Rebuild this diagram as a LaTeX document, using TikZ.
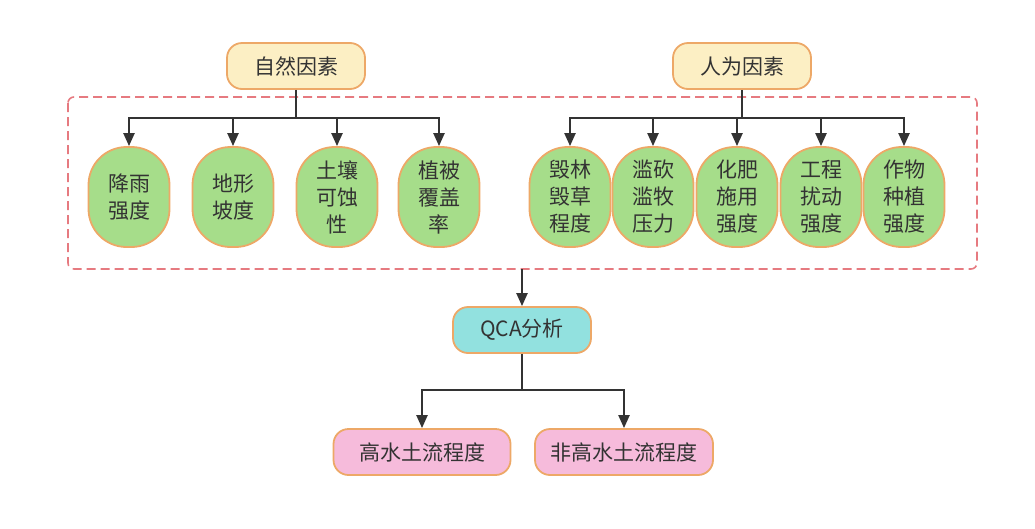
\documentclass[tikz,border=0pt]{standalone}
\usepackage{fontspec}
\setmainfont{Noto Sans CJK SC}
\usetikzlibrary{arrows.meta}
\definecolor{lineC}{HTML}{333333}
\definecolor{ylwF}{HTML}{FCEFC4}
\definecolor{ornB}{HTML}{EDA867}
\definecolor{grnF}{HTML}{A6DD8A}
\definecolor{tealF}{HTML}{92E1DF}
\definecolor{pinkF}{HTML}{F6BBDB}
\definecolor{dashC}{HTML}{E67A80}
\begin{document}
\begin{tikzpicture}[x=1pt,y=-1pt,
  every node/.style={font=\fontsize{21}{27}\selectfont, text=lineC, align=center, inner sep=0pt},
  topbox/.style={draw=ornB, line width=1.8pt, rounded corners=15pt, minimum width=138pt, minimum height=46pt},
  ovalbox/.style={draw=ornB, fill=grnF, line width=1.8pt, rounded corners=38pt, minimum width=81pt, minimum height=100pt},
  conn/.style={draw=lineC, line width=2.2pt},
  arr/.style={conn, -{Triangle[length=13pt,width=11pt]}}]
\useasboundingbox (0,0) rectangle (1035,528);
\draw[dashC, line width=1.6pt, dash pattern=on 9pt off 5pt, rounded corners=6pt] (68,97) rectangle (977,269);
\node[topbox, fill=ylwF] (nat) at (296,66) {自然因素};
\node[topbox, fill=ylwF] (hum) at (742,66) {人为因素};
\node[ovalbox] (a1) at (129,197) {降雨\\强度};
\node[ovalbox] (a2) at (233,197) {地形\\坡度};
\node[ovalbox] (a3) at (337,197) {土壤\\可蚀\\性};
\node[ovalbox] (a4) at (439,197) {植被\\覆盖\\率};
\node[ovalbox] (b1) at (570,197) {毁林\\毁草\\程度};
\node[ovalbox] (b2) at (653,197) {滥砍\\滥牧\\压力};
\node[ovalbox] (b3) at (737,197) {化肥\\施用\\强度};
\node[ovalbox] (b4) at (821,197) {工程\\扰动\\强度};
\node[ovalbox] (b5) at (904,197) {作物\\种植\\强度};
\node[topbox, fill=tealF] (qca) at (522,330) {QCA分析};
\node[topbox, fill=pinkF, minimum width=177pt] (hi) at (422,452) {高水土流程度};
\node[topbox, fill=pinkF, minimum width=178pt] (nhi) at (624,452) {非高水土流程度};
\coordinate (nj) at (296,118);
\coordinate (hj) at (742,118);
\coordinate (boxb) at (522,269);
\coordinate (qj) at (522,390);
\draw[conn] (nat.south) -- (nj);
\foreach \n in {a1,a2,a3,a4} \draw[arr] (nj) -| (\n.north);
\draw[conn] (hum.south) -- (hj);
\foreach \n in {b1,b2,b3,b4,b5} \draw[arr] (hj) -| (\n.north);
\draw[arr] (boxb) -- (qca.north);
\draw[conn] (qca.south) -- (qj);
\draw[arr] (qj) -| (hi.north);
\draw[arr] (qj) -| (nhi.north);
\end{tikzpicture}
\end{document}
